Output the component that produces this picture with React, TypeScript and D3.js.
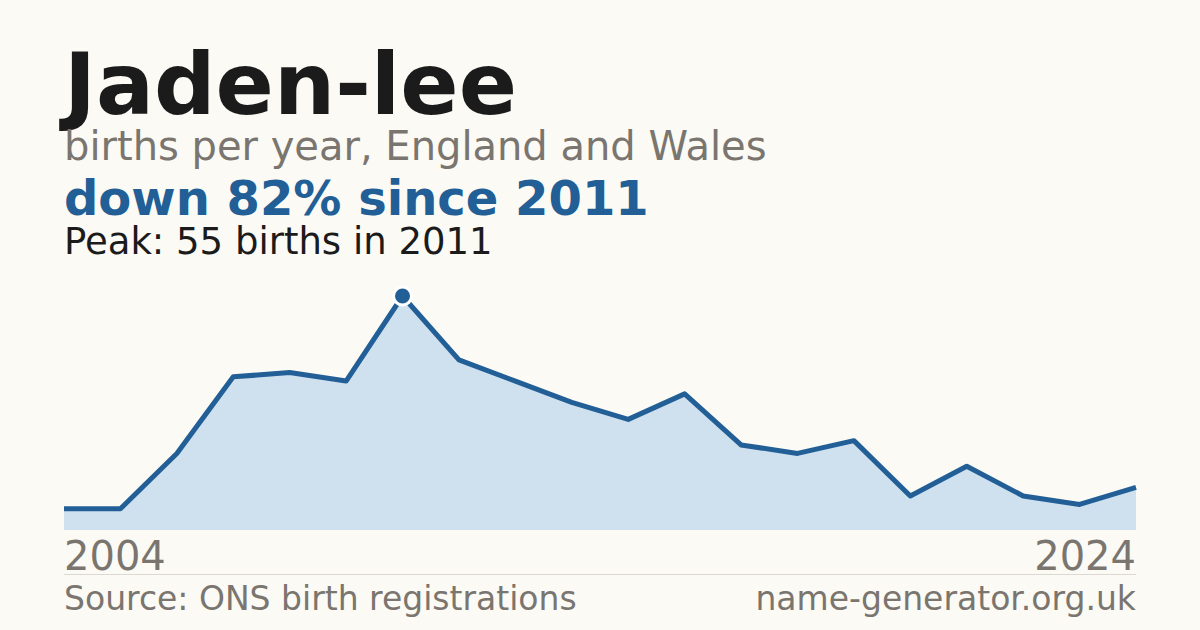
import { useEffect, useRef } from 'react';
import * as d3 from 'd3';

// ONS publishes nothing for years with fewer than 3 births, so one early year is absent
const years = [
  2004, 2006, 2007, 2008, 2009, 2010, 2011, 2012, 2013, 2014,
  2015, 2016, 2017, 2018, 2019, 2020, 2021, 2022, 2023, 2024,
];
const births = [5, 5, 18, 36, 37, 35, 55, 40, 35, 30, 26, 32, 20, 18, 21, 8, 15, 8, 6, 10];

const nameTitle = 'Jaden-lee';
const subtitle = 'births per year, England and Wales';
const sourceLabel = 'Source: ONS birth registrations';
const siteLabel = 'name-generator.org.uk';

const WIDTH = 1200;
const HEIGHT = 630;
const FONT = "'DejaVu Sans', sans-serif";

export default function App() {
  const svgRef = useRef<SVGSVGElement>(null);

  useEffect(() => {
    if (!svgRef.current) return;
    document.body.style.margin = '0';

    const svg = d3.select(svgRef.current);
    svg.selectAll('*').remove();

    const left = 64;
    const right = 1136;
    const top = 296;
    const bottom = 530;

    const points = years.map((year, i) => ({ year, value: births[i] }));
    const peak = points.reduce((best, p) => (p.value > best.value ? p : best), points[0]);
    const last = points[points.length - 1];
    const change = Math.round((1 - last.value / peak.value) * 100);

    svg.append('rect').attr('width', WIDTH).attr('height', HEIGHT).attr('fill', '#fbfaf5');

    const x = d3
      .scalePoint<number>()
      .domain(years)
      .range([left, right]);

    const y = d3
      .scaleLinear()
      .domain([0, peak.value])
      .range([bottom, top]);

    // header
    svg
      .append('text')
      .attr('x', left)
      .attr('y', 114)
      .attr('fill', '#1b1b1b')
      .attr('font-size', 86)
      .attr('font-weight', 'bold')
      .attr('font-family', FONT)
      .text(nameTitle);

    svg
      .append('text')
      .attr('x', left)
      .attr('y', 160)
      .attr('fill', '#7a756e')
      .attr('font-size', 40)
      .attr('font-family', FONT)
      .text(subtitle);

    svg
      .append('text')
      .attr('x', left)
      .attr('y', 215)
      .attr('fill', '#215f96')
      .attr('font-size', 48)
      .attr('font-weight', 'bold')
      .attr('font-family', FONT)
      .text(`down ${change}% since ${peak.year}`);

    svg
      .append('text')
      .attr('x', left)
      .attr('y', 254)
      .attr('fill', '#1b1b1b')
      .attr('font-size', 37)
      .attr('font-family', FONT)
      .text(`Peak: ${peak.value} births in ${peak.year}`);

    // chart
    const area = d3
      .area<{ year: number; value: number }>()
      .x((d) => x(d.year) ?? 0)
      .y0(bottom)
      .y1((d) => y(d.value));

    const line = d3
      .line<{ year: number; value: number }>()
      .x((d) => x(d.year) ?? 0)
      .y((d) => y(d.value));

    svg.append('path').datum(points).attr('fill', '#cfe0ef').attr('d', area);

    svg
      .append('path')
      .datum(points)
      .attr('fill', 'none')
      .attr('stroke', '#215f96')
      .attr('stroke-width', 5)
      .attr('stroke-linejoin', 'round')
      .attr('d', line);

    svg
      .append('circle')
      .attr('cx', x(peak.year) ?? 0)
      .attr('cy', y(peak.value))
      .attr('r', 9)
      .attr('fill', '#215f96')
      .attr('stroke', '#ffffff')
      .attr('stroke-width', 3);

    // x labels
    svg
      .append('text')
      .attr('x', left)
      .attr('y', 570)
      .attr('fill', '#7a756e')
      .attr('font-size', 40)
      .attr('font-family', FONT)
      .text(String(years[0]));

    svg
      .append('text')
      .attr('x', right)
      .attr('y', 570)
      .attr('text-anchor', 'end')
      .attr('fill', '#7a756e')
      .attr('font-size', 40)
      .attr('font-family', FONT)
      .text(String(years[years.length - 1]));

    svg
      .append('line')
      .attr('x1', left)
      .attr('x2', right)
      .attr('y1', 574.5)
      .attr('y2', 574.5)
      .attr('stroke', '#dcd9d2')
      .attr('stroke-width', 1);

    // footer
    svg
      .append('text')
      .attr('x', left)
      .attr('y', 610)
      .attr('fill', '#7a756e')
      .attr('font-size', 33)
      .attr('font-family', FONT)
      .text(sourceLabel);

    svg
      .append('text')
      .attr('x', right)
      .attr('y', 610)
      .attr('text-anchor', 'end')
      .attr('fill', '#7a756e')
      .attr('font-size', 33)
      .attr('font-family', FONT)
      .text(siteLabel);
  }, []);

  return (
    <svg
      ref={svgRef}
      width={WIDTH}
      height={HEIGHT}
      viewBox={`0 0 ${WIDTH} ${HEIGHT}`}
      style={{ display: 'block' }}
    />
  );
}
